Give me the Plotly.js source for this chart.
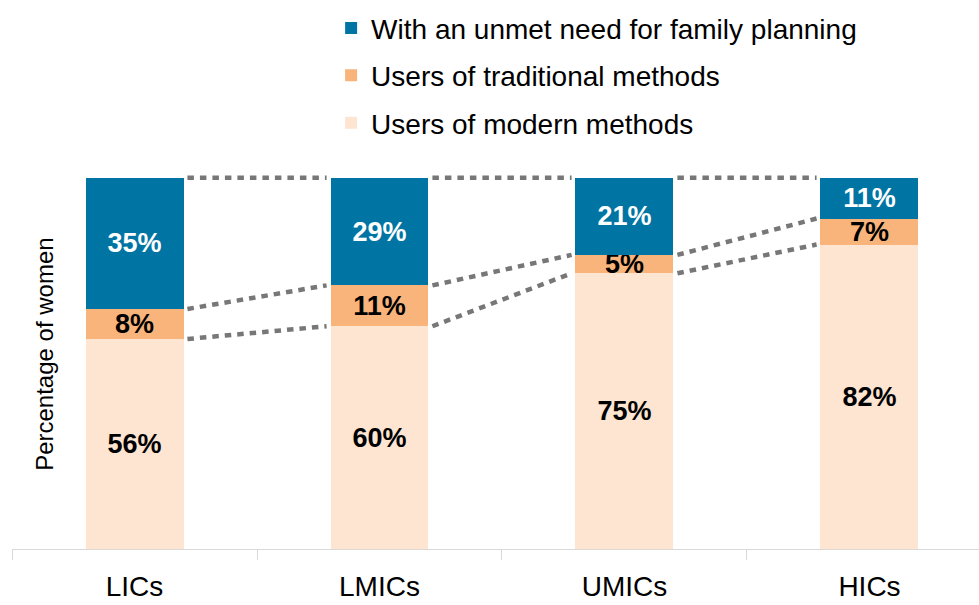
<!DOCTYPE html>
<html>
<head>
<meta charset="utf-8">
<script src="https://cdn.plot.ly/plotly-3.0.1.min.js"></script>
<style>html,body{margin:0;padding:0;background:#fff;}#chart{width:979px;height:605px;}</style>
</head>
<body>
<div id="chart"></div>
<script>
const categories = ["LICs", "LMICs", "UMICs", "HICs"];
const modernUsers = [56, 60, 75, 82];
const traditionalUsers = [8, 11, 5, 7];
const unmetNeed = [35, 29, 21, 11];
const seriesNames = ["Users of modern methods", "Users of traditional methods", "With an unmet need for family planning"];
const yTitle = "Percentage of women";

const colors = ["#FDE5D2", "#F8B47A", "#0075A4"];
const textColors = ["#000000", "#000000", "#FFFFFF"];
const legendRanks = [3, 2, 1];
const series = [modernUsers, traditionalUsers, unmetNeed];
const FONT = "Liberation Sans, Arial, sans-serif";

const traces = series.map((vals, k) => ({
  type: "bar",
  name: seriesNames[k],
  x: categories,
  y: vals,
  legendgroup: "g" + k,
  legendrank: legendRanks[k],
  marker: {color: colors[k], line: {width: 0}},
  text: vals.map(v => v + "%"),
  textposition: "inside",
  insidetextanchor: "middle",
  constraintext: "none",
  textangle: 0,
  textfont: {family: FONT, size: 27, color: textColors[k], weight: "bold"},
  hoverinfo: "skip"
}));

// Normalised boundaries (bars are drawn as 100% stacks)
const totals = categories.map((c, i) => modernUsers[i] + traditionalUsers[i] + unmetNeed[i]);
const b1 = categories.map((c, i) => modernUsers[i] / totals[i] * 100);
const b2 = categories.map((c, i) => (modernUsers[i] + traditionalUsers[i]) / totals[i] * 100);
const b3 = categories.map(() => 100);
const halfBar = 0.2;
const lineGap = 0.016;
const shapes = [];
[b1, b2, b3].forEach(b => {
  for (let i = 0; i < categories.length - 1; i++) {
    shapes.push({
      type: "line", xref: "x", yref: "y",
      x0: i + halfBar + lineGap, y0: b[i], x1: i + 1 - halfBar - lineGap, y1: b[i + 1],
      line: {color: "#777777", width: 4.5, dash: "6.5px,6px"}
    });
  }
});

const yMax = 101;
const plotH = 371 * yMax / 100;
const topM = 549 - plotH;

const layout = {
  width: 979, height: 605,
  margin: {l: 12, r: 0, t: topM, b: 56, pad: 0},
  paper_bgcolor: "#fff", plot_bgcolor: "#fff",
  barmode: "stack", barnorm: "percent", bargap: 0.6,
  font: {family: FONT, color: "#000"},
  showlegend: true,
  legend: {
    traceorder: "grouped", tracegroupgap: 8,
    x: 0.33, xanchor: "left", y: 1 + (topM - 3.6) / plotH, yanchor: "top",
    font: {family: FONT, size: 28, color: "#000"},
    bgcolor: "rgba(0,0,0,0)"
  },
  xaxis: {
    type: "category", range: [-0.5, 3.447],
    showline: true, linecolor: "#D9D9D9", linewidth: 1,
    ticks: "outside", tickson: "boundaries", ticklen: 10, tickcolor: "#D9D9D9", tickwidth: 1,
    ticklabelstandoff: 12,
    tickfont: {family: FONT, size: 28, color: "#000"},
    showgrid: false, zeroline: false, fixedrange: true
  },
  yaxis: {
    range: [0, yMax], showticklabels: false, showgrid: false, zeroline: false, showline: false, ticks: "",
    fixedrange: true
  },
  annotations: [{
    text: yTitle, xref: "paper", yref: "paper",
    x: (45 - 12) / 967, y: (549 - 355) / plotH, xanchor: "center", yanchor: "middle",
    textangle: -90, showarrow: false,
    font: {family: FONT, size: 24, color: "#000"}
  }],
  shapes: shapes
};

Plotly.newPlot("chart", traces, layout, {displayModeBar: false, staticPlot: true});
</script>
</body>
</html>
